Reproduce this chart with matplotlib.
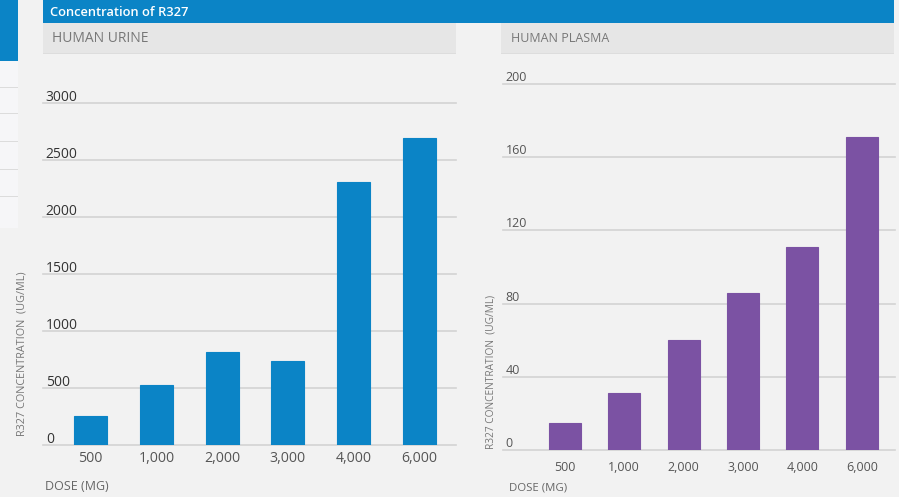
import matplotlib.pyplot as plt
from matplotlib.patches import Rectangle
from matplotlib.transforms import blended_transform_factory

plt.rcParams["font.family"] = ["Open Sans", "DejaVu Sans"]

# data
doses = ["500", "1,000", "2,000", "3,000", "4,000", "6,000"]
urine = [255, 525, 815, 740, 2305, 2690]
plasma = [15, 31, 60, 86, 111, 171]
urine_ticks = [0, 500, 1000, 1500, 2000, 2500, 3000]
plasma_ticks = [0, 40, 80, 120, 160, 200]

BG = "#f2f2f2"
BLUE = "#0b84c6"
PURPLE = "#7b52a3"
GRID = "#d3d3d3"

W, H = 899, 497
fig = plt.figure(figsize=(W / 100, H / 100), dpi=100)
fig.patch.set_facecolor(BG)


def px_rect(x0, y0, x1, y1, **kw):
    # rectangle in pixel coords (top-left origin)
    fig.patches.append(Rectangle((x0 / W, 1 - y1 / H), (x1 - x0) / W, (y1 - y0) / H,
                                 transform=fig.transFigure, **kw))


def px_text(x, y, s, **kw):
    fig.text(x / W, 1 - y / H, s, **kw)


def px_axes(x0, y0, x1, y1):
    return fig.add_axes([x0 / W, 1 - y1 / H, (x1 - x0) / W, (y1 - y0) / H])


# left side strip
px_rect(0, 0, 18, 61, color=BLUE, lw=0)
px_rect(0, 61, 18, 228, color="#f6f6f8", lw=0)
for yy in [87, 113, 141, 169, 196]:
    px_rect(0, yy, 18, yy + 1.2, color="#dcdcdc", lw=0)

# header bar and sub panels
px_rect(43, 0, 894, 23, color=BLUE, lw=0)
px_text(50, 12, "Concentration of R327", color="white", fontsize=9.3,
        fontweight="semibold", va="center")
px_rect(43, 23, 456, 53, color="#e6e6e6", lw=0)
px_rect(43, 53, 456, 54, color="#dddddd", lw=0)
px_rect(501, 23, 894, 53, color="#e6e6e6", lw=0)
px_rect(501, 53, 894, 54, color="#dddddd", lw=0)
px_text(52, 39, "HUMAN URINE", color="#777777", fontsize=10, va="center")
px_text(511, 39, "HUMAN PLASMA", color="#777777", fontsize=9, va="center")


def draw_panel(ax, values, ticks, color, xlim, width, tick_fs, xtick_fs, dy, tick_col):
    ax.set_facecolor("none")
    x = list(range(len(values)))
    ax.bar(x, values, width=width, color=color, edgecolor=color, linewidth=0.8, zorder=3)
    ax.set_xlim(*xlim)
    ax.set_ylim(ticks[0], ticks[-1])
    for t in ticks:
        ax.axhline(t, color=GRID, lw=1.2, zorder=1, clip_on=False)
    trans = blended_transform_factory(ax.transAxes, ax.transData)
    for t in ticks:
        ax.annotate(str(t), (0, t), xycoords=trans, xytext=(2, dy),
                    textcoords="offset points", ha="left", va="bottom",
                    fontsize=tick_fs, color=tick_col)
    ax.set_xticks(x)
    ax.set_xticklabels(doses, fontsize=xtick_fs, color="#555555")
    ax.tick_params(axis="x", length=0, pad=5)
    ax.set_yticks([])
    for s in ax.spines.values():
        s.set_visible(False)


ax1 = px_axes(43, 103, 456, 445)
draw_panel(ax1, urine, urine_ticks, BLUE, (-0.724, 5.557), 0.5, 10, 10.2, -1.5, "#333333")
ax1.tick_params(axis="x", pad=4)

ax2 = px_axes(503, 84, 895, 450)
draw_panel(ax2, plasma, plasma_ticks, PURPLE, (-1.04, 5.56), 0.54, 9, 9, 0, "#555555")
ax2.tick_params(axis="x", pad=8)

# axis titles
px_text(22, 354, "R327 CONCENTRATION  (UG/ML)", rotation=90, fontsize=7.8,
        color="#777777", ha="center", va="center")
px_text(491, 372, "R327 CONCENTRATION  (UG/ML)", rotation=90, fontsize=7.3,
        color="#777777", ha="center", va="center")
px_text(45, 487, "DOSE (MG)", fontsize=9, color="#666666", va="center")
px_text(509, 488, "DOSE (MG)", fontsize=8.2, color="#666666", va="center")

fig.savefig("out.png", dpi=100, facecolor=BG)
